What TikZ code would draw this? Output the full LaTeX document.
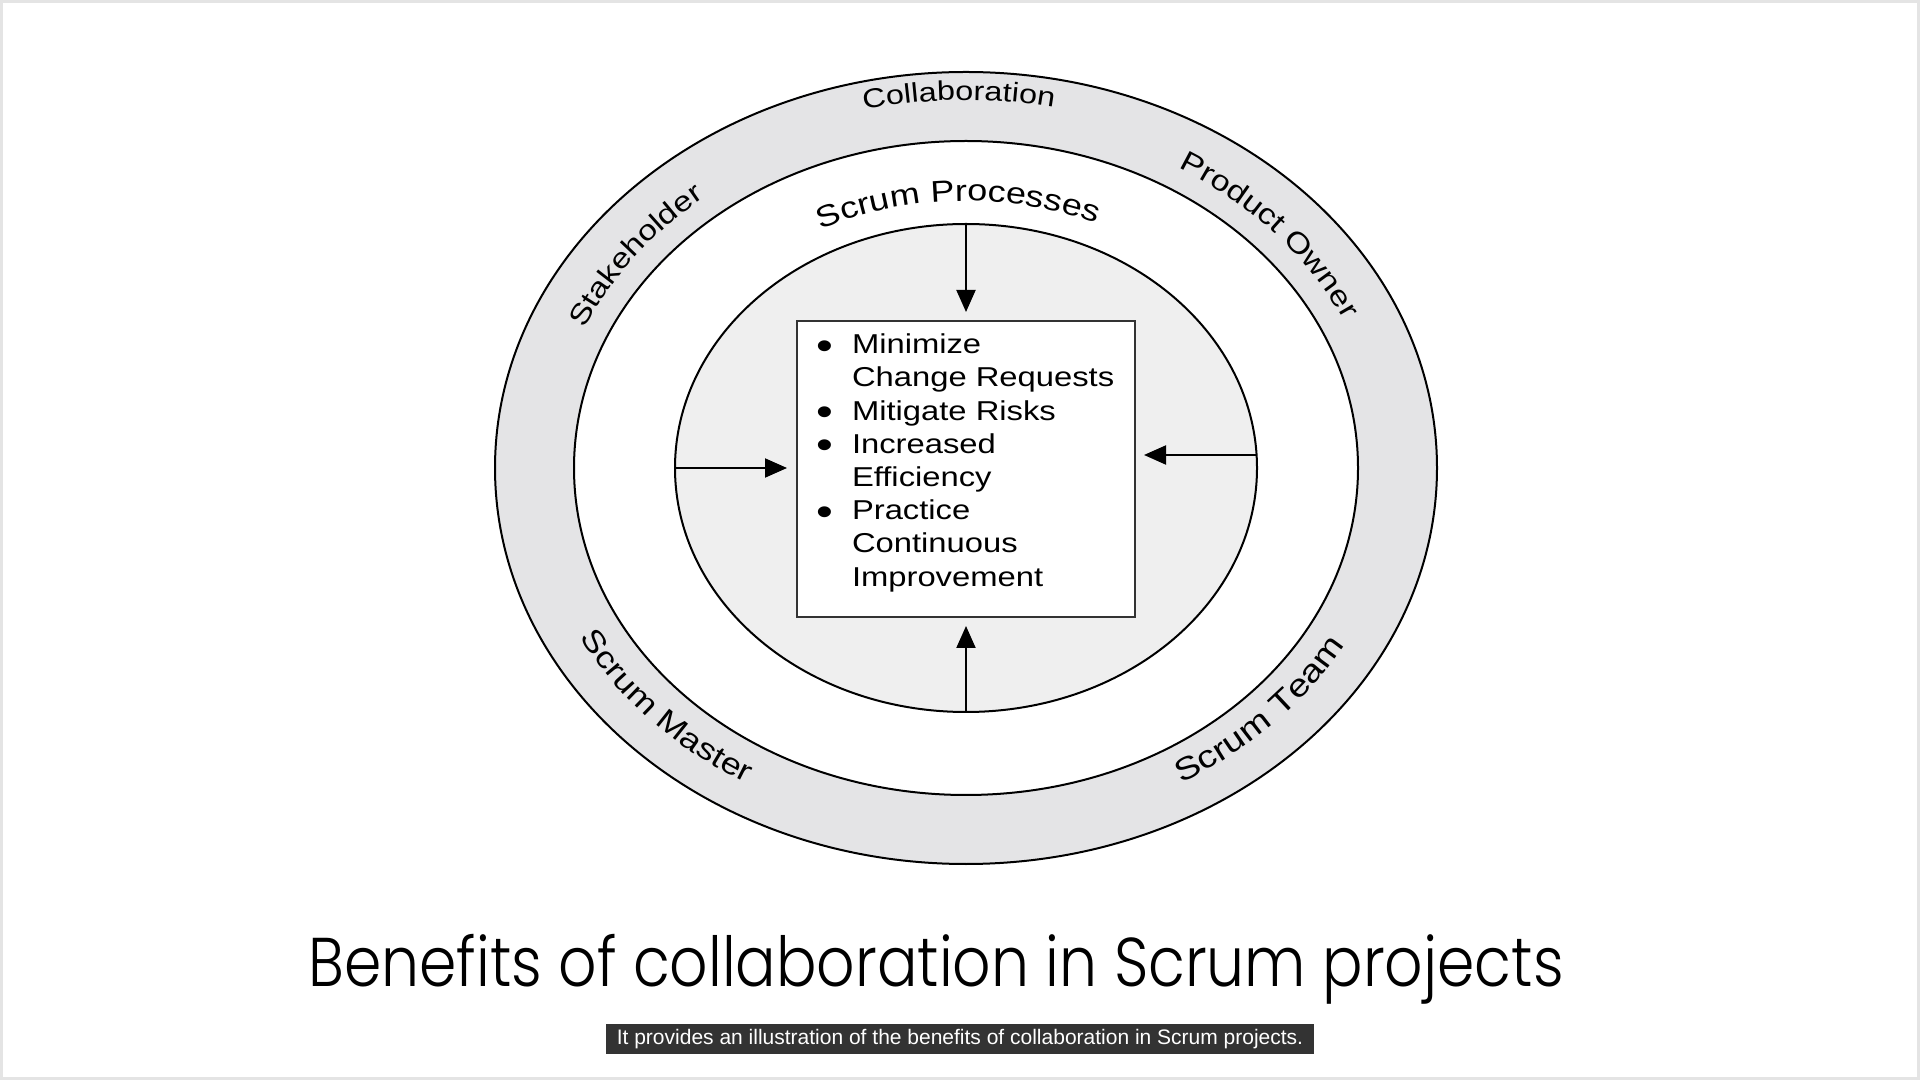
\documentclass[tikz,border=0pt]{standalone}
\usepackage{fontspec}
\setmainfont{Liberation Sans}
\newfontfamily\diagfont{Liberation Sans}[FakeStretch=1.2]
\newfontfamily\titlefont{Poppins Light}[FakeStretch=0.87]
\usetikzlibrary{arrows.meta,calc,positioning,shapes.geometric,decorations.text}
\definecolor{ringgray}{HTML}{E4E4E6}
\definecolor{coregray}{HTML}{EFEFEF}
\definecolor{edgegray}{HTML}{E4E4E4}
\definecolor{capgray}{HTML}{333333}
\newcommand\dotmark{\makebox[36pt][l]{\hspace{0.5pt}\raisebox{-5.5pt}{\fontsize{40}{40}\selectfont•}}}

\begin{document}
\begin{tikzpicture}[
    x=1pt, y=1pt, line width=2pt,
    oval/.style={draw, ellipse, inner sep=0, outer sep=0},
    arr/.style={-{Triangle[length=22pt,width=19pt]}},
    ringlabel/.style args={#1/#2}{decorate, decoration={text along path, text align=center,
      text={|\diagfont\fontsize{#2}{#2}\selectfont|#1}}},
  ]
  \useasboundingbox (0,0) rectangle (1920,1080);
  \draw[edgegray, line width=3pt] (1.5,1.5) rectangle (1918.5,1078.5);

  % the three ovals
  \node[oval, fill=ringgray, minimum width=942pt, minimum height=792pt] (ring) at (966,612) {};
  \node[oval, fill=white, minimum width=784pt, minimum height=654pt] (mid) at (966,612) {};
  \node[oval, fill=coregray, minimum width=582pt, minimum height=488pt] (core) at (966,612) {};

  \node[draw=black!80, fill=white, minimum width=338pt, minimum height=296pt] (benefits) at (966,611) {};
  \node[anchor=north west, inner sep=0, align=left, font=\diagfont\fontsize{27.3}{33.2}\selectfont]
    (items) at (815,747)
    {\dotmark Minimize\\
     \hspace*{36pt}Change Requests\\
     \dotmark Mitigate Risks\\
     \dotmark Increased\\
     \hspace*{36pt}Efficiency\\
     \dotmark Practice\\
     \hspace*{36pt}Continuous\\
     \hspace*{36pt}Improvement};

  \draw[arr] (core.north) -- ([yshift=8pt]benefits.north);
  \draw[arr] (core.south) -- ([yshift=-8pt]benefits.south);
  \draw[arr] (core.west) -- ($(core.west -| benefits.west)+(-9,0)$);
  \draw[arr] ([yshift=13pt]core.east) -- ($(core.east -| benefits.east)+(8,13)$);

  % labels on the ring
  \path[ringlabel={Collaboration/27}] ([shift={(131:439pt and 368pt)}]ring.center)
    arc[start angle=131, end angle=51, x radius=439pt, y radius=368pt];
  \path[ringlabel={Stakeholder/28}] ([shift={(184.5:416pt and 348pt)}]ring.center)
    arc[start angle=184.5, end angle=104.5, x radius=416pt, y radius=348pt];
  \path[ringlabel={Product Owner/28.5}] ([shift={(81:417pt and 349pt)}]ring.center)
    arc[start angle=81, end angle=0, x radius=417pt, y radius=349pt];
  \path[ringlabel={Scrum Master/30}] ([shift={(182:436pt and 365pt)}]ring.center)
    arc[start angle=182, end angle=262, x radius=436pt, y radius=365pt];
  \path[ringlabel={Scrum Team/31.5}] ([shift={(277:434pt and 363pt)}]ring.center)
    arc[start angle=277, end angle=357, x radius=434pt, y radius=363pt];
  \path[ringlabel={Scrum Processes/30}] ([shift={(127:325pt and 267pt)}]ring.center)
    arc[start angle=127, end angle=56, x radius=325pt, y radius=267pt];

  \node[anchor=base, font=\titlefont\fontsize{69}{80}\selectfont] (title) at (936,94)
    {Benefits of collaboration in Scrum projects};
  \node[fill=capgray, text=white, minimum width=708pt, minimum height=30pt, inner sep=0,
    font=\fontsize{21}{24}\selectfont] (caption) at (960,41)
    {It provides an illustration of the benefits of collaboration in Scrum projects.};
\end{tikzpicture}
\end{document}
